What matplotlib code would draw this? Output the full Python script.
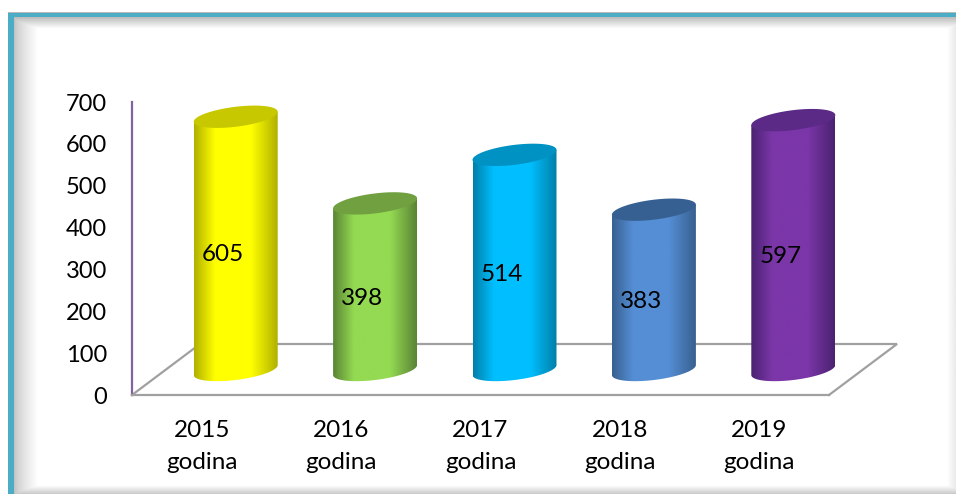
import matplotlib
matplotlib.use("Agg")
import matplotlib.pyplot as plt
import numpy as np
from matplotlib.colors import LinearSegmentedColormap
from matplotlib.patches import Polygon

years = ["2015", "2016", "2017", "2018", "2019"]
values = [605, 398, 514, 383, 597]
edge_colors = ["#b0b000", "#5a8435", "#007fa8", "#38608f", "#4a2270"]
mid_colors = ["#ffff00", "#94da52", "#00bfff", "#558ed5", "#7b36a8"]
top_colors = ["#c8c800", "#70a03f", "#0092c2", "#376092", "#5a2a86"]
yticks = [0, 100, 200, 300, 400, 500, 600, 700]

W, H = 956, 494
plt.rcParams["font.family"] = ["Lato", "DejaVu Sans"]
fig = plt.figure(figsize=(W / 100, H / 100), dpi=100)

# page background: blue frame with soft inner shadow
bg = fig.add_axes([0, 0, 1, 1], zorder=0)
yy, xx = np.mgrid[0:H, 0:W]
shade = np.ones((H, W))
shade = np.minimum(shade, 0.76 + 0.24 * np.clip((xx - 14) / 24, 0, 1) ** 0.7)
shade = np.minimum(shade, 0.72 + 0.28 * np.clip((yy - 17) / 12, 0, 1))
shade = np.minimum(shade, 0.80 + 0.20 * np.clip((H - 1 - yy) / 8, 0, 1))
shade = np.minimum(shade, 0.92 + 0.08 * np.clip((W - 1 - xx) / 8, 0, 1))
shade[(xx < 8) | (yy < 13)] = 1
bg.imshow(shade, cmap="gray", vmin=0, vmax=1, extent=(0, W, H, 0), aspect="auto")
bg.add_patch(plt.Rectangle((8, 13), W - 8, 4, color="#4bacc6", lw=0))
bg.add_patch(plt.Rectangle((8, 13), 6, H - 13, color="#4bacc6", lw=0))
bg.set_xlim(0, W)
bg.set_ylim(H, 0)
bg.axis("off")

# chart axes, x = category index, y = value
x0, x1, y0, y1 = 132, 829, 395, 102
ax = fig.add_axes([x0 / W, 1 - y0 / H, (x1 - x0) / W, (y0 - y1) / H], zorder=1)
ax.patch.set_alpha(0)
px_x = 5 / (x1 - x0)
px_y = 700 / (y0 - y1)

# floor
floor_dx = 68 * px_x
floor_dy = 51 * px_y
floor_x = [-0.5, -0.5 + floor_dx, 4.5 + floor_dx, 4.5]
floor_y = [0, floor_dy, floor_dy, 0]
ax.plot(floor_x, floor_y, color="#a0a0a0", lw=1.6, clip_on=False, zorder=1, solid_joinstyle="miter")

# cylinders
depth_x = 34 * px_x
depth_y = 25 * px_y
a = 42 * px_x
b = 10 * px_y
tilt = 5 * px_y
t = np.linspace(0, 2 * np.pi, 121)

for i, val in enumerate(values):
    cx = i + depth_x
    cmap = LinearSegmentedColormap.from_list(
        "cyl", [(0, edge_colors[i]), (0.25, mid_colors[i]), (0.68, mid_colors[i]), (1, edge_colors[i])])
    grad = np.linspace(0, 1, 256).reshape(1, -1)

    # side: bottom arc then top arc
    tb = np.linspace(np.pi, 2 * np.pi, 60)
    bx = cx + a * np.cos(tb)
    by = depth_y + tilt * np.cos(tb) + b * np.sin(tb)
    tx = cx + a * np.cos(tb[::-1])
    ty = depth_y + val + tilt * np.cos(tb[::-1])
    side = Polygon(np.column_stack([np.r_[bx, tx], np.r_[by, ty]]), transform=ax.transData,
                   fc="none", ec="none")
    ax.add_patch(side)
    im = ax.imshow(grad, cmap=cmap, extent=(cx - a, cx + a, 0, val + depth_y + b + tilt),
                   aspect="auto", zorder=2)
    im.set_clip_box(fig.bbox)
    im.set_clip_path(side)

    ex = cx + a * np.cos(t)
    ey = depth_y + val + tilt * np.cos(t) + b * np.sin(t)
    ax.fill(ex, ey, color=top_colors[i], lw=0, zorder=3, clip_on=False)

    ax.text(cx - 13 * px_x, val / 2 + 32, str(val), ha="center", va="center",
            fontsize=17.5, color="black", zorder=4)

ax.set_xlim(-0.5, 4.5)
ax.set_ylim(0, 700)
ax.set_yticks(yticks)
ax.set_xticks(range(len(years)))
ax.set_xticklabels([y + "\ngodina" for y in years], linespacing=1.65)
ax.tick_params(axis="y", length=0, pad=18, labelsize=17)
ax.tick_params(axis="x", length=0, pad=18, labelsize=17.5)
for s in ["top", "right"]:
    ax.spines[s].set_visible(False)
ax.spines["left"].set_color("#8064a2")
ax.spines["left"].set_linewidth(1.6)
ax.spines["bottom"].set_color("#a0a0a0")
ax.spines["bottom"].set_linewidth(1.6)

fig.savefig("out.png", dpi=100)
